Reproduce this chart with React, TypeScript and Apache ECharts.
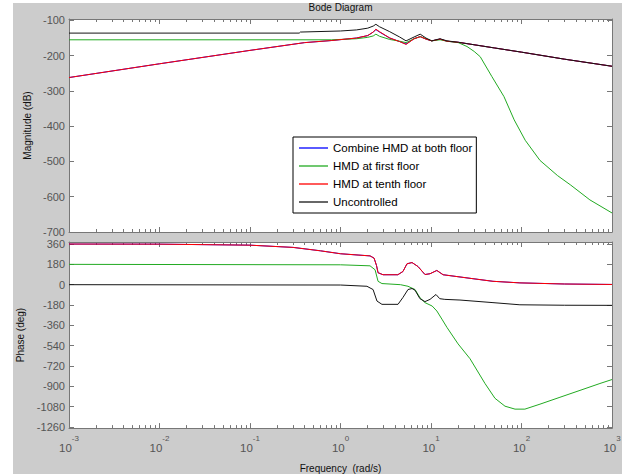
import React, { useEffect, useRef } from 'react';
import * as echarts from 'echarts';

const FONT = '"Liberation Sans", Arial, Helvetica, sans-serif';
const AXIS = '#777777';
const LABEL = '#555555';

const seriesNames = ['Combine HMD at both floor', 'HMD at first floor', 'HMD at tenth floor', 'Uncontrolled'];
const seriesColors = ['#0000ff', '#22aa22', '#ff0000', '#151515'];

const magTicks = [-700, -600, -500, -400, -300, -200, -100];
const phaseTicks = [-1260, -1080, -900, -720, -540, -360, -180, 0, 180, 360];

// ---- Magnitude (dB) ----
const tenthMagFreq = [0.001, 0.01, 0.1, 0.4, 0.8, 1.5, 2.0, 2.3, 2.46, 2.7, 3.5, 4.5, 5.3, 6.5, 7.6, 8.8, 10.2, 12.6, 15, 20, 50, 100, 300, 1000];
const tenthMag = [-262, -223, -185, -163, -157, -150, -143, -133, -125, -132, -150, -160, -168, -152, -146, -153, -158, -153, -159, -162, -178, -190, -210, -230];

const combineMagFreq = tenthMagFreq;
const combineMag = [-262, -223, -185, -163, -157, -150, -143, -133, -126, -133, -150, -160, -167, -152, -146, -153, -158, -153, -159, -162, -178, -190, -210, -230];

const firstMagFreq = [0.001, 0.8, 1.5, 2.0, 2.3, 2.46, 2.7, 3.5, 4.5, 5.3, 6.5, 7.6, 8.8, 10.2, 12.6, 15, 20, 25, 30, 35, 47, 64, 83, 110, 160, 250, 350, 570, 1000];
const firstMag = [-155, -155, -152, -148, -144, -139, -145, -154, -159, -163, -152, -146, -152, -158, -155, -159, -163, -174, -188, -203, -259, -316, -382, -440, -497, -540, -567, -609, -646];

const unconMagFreq = [0.001, 0.35, 0.36, 1.0, 1.5, 2.0, 2.3, 2.46, 2.7, 3.5, 4.5, 5.3, 6.5, 7.6, 8.8, 10.2, 12.6, 15, 20, 50, 100, 300, 1000];
const unconMag = [-136, -136, -133, -130, -127, -122, -116, -111, -118, -132, -147, -158, -147, -139, -150, -158, -152, -158, -162, -178, -190, -210, -230];

// ---- Phase (deg) ----
const tenthPhaseFreq = [0.001, 0.01, 0.1, 0.3, 0.6, 1.0, 1.6, 2.12, 2.35, 2.5, 2.6, 2.95, 4.3, 4.9, 5.43, 6.17, 7.18, 8.58, 9.76, 11.6, 13.6, 16.2, 29.1, 48.4, 96, 300, 1000];
const tenthPhase = [360, 359, 350, 330, 300, 274, 262, 255, 235, 170, 106, 88, 88, 117, 185, 196, 161, 90, 97, 126, 88, 80, 53, 30, 16, 6, 2];

const combinePhaseFreq = tenthPhaseFreq;
const combinePhase = tenthPhase;

const firstPhaseFreq = [0.001, 1.0, 2.12, 2.41, 2.6, 2.87, 4.6, 5.57, 6.66, 7.55, 8.58, 10.3, 11.6, 13.2, 15, 19.9, 27, 39.5, 50.9, 65.7, 84.8, 109, 160, 266, 443, 736, 1000];
const firstPhase = [180, 176, 167, 132, 30, 10, 0, -14, -43, -115, -159, -189, -233, -305, -378, -524, -656, -875, -1006, -1076, -1102, -1102, -1058, -997, -936, -875, -840];

const unconPhaseFreq = [0.001, 1.0, 1.96, 2.29, 2.53, 2.87, 4.32, 4.9, 5.57, 6.17, 6.66, 7.55, 8.58, 9.76, 11.35, 12.5, 14.2, 20.9, 48.4, 96, 300, 1000];
const unconPhase = [0, -3, -14, -43, -145, -174, -174, -113, -43, -34, -49, -124, -150, -130, -87, -124, -130, -136, -159, -178, -182, -183];

const zip = (f: number[], v: number[]) => f.map((x, i) => [x, v[i]]);

const magData = [zip(combineMagFreq, combineMag), zip(firstMagFreq, firstMag), zip(tenthMagFreq, tenthMag), zip(unconMagFreq, unconMag)];
const phaseData = [zip(combinePhaseFreq, combinePhase), zip(firstPhaseFreq, firstPhase), zip(tenthPhaseFreq, tenthPhase), zip(unconPhaseFreq, unconPhase)];

function xAxis(gridIndex: number, position: 'top' | 'bottom', labels: boolean, name?: string) {
  return {
    type: 'log',
    logBase: 10,
    gridIndex,
    position,
    min: 0.001,
    max: 1000,
    axisLine: { show: true, onZero: false, lineStyle: { color: AXIS, width: 1 } },
    axisTick: { show: true, inside: true, length: 5, lineStyle: { color: AXIS } },
    minorTick: { show: true, splitNumber: 9, length: 3, lineStyle: { color: AXIS } },
    splitLine: { show: false },
    minorSplitLine: { show: false },
    axisLabel: labels
      ? {
          show: true,
          margin: 13,
          formatter: (v: number) => `{b|10}{s|${Math.round(Math.log10(v))}}`,
          rich: {
            b: { fontSize: 11.5, lineHeight: 14, color: LABEL, fontFamily: FONT },
            s: { fontSize: 8, lineHeight: 14, padding: [0, 0, 20, 0], color: LABEL, fontFamily: FONT },
          },
        }
      : { show: false },
    name: name || '',
    nameLocation: 'middle',
    nameGap: 30,
    nameTextStyle: { fontSize: 10, color: '#111', fontFamily: FONT },
  };
}

function yAxis(gridIndex: number, position: 'left' | 'right', min: number, max: number, ticks: number[], name?: string) {
  const left = position === 'left';
  return {
    type: 'value',
    gridIndex,
    position,
    min,
    max,
    axisLine: { show: true, onZero: false, lineStyle: { color: AXIS, width: 1 } },
    axisTick: { show: true, inside: true, length: 5, customValues: ticks, lineStyle: { color: AXIS } },
    splitLine: { show: false },
    axisLabel: left
      ? {
          show: true,
          customValues: ticks,
          formatter: (v: number) => String(v),
          fontSize: 11,
          color: LABEL,
          fontFamily: FONT,
          margin: 4,
        }
      : { show: false },
    name: left ? name : '',
    nameLocation: 'middle',
    nameGap: 32,
    nameTextStyle: { fontSize: 10, color: '#111', fontFamily: FONT },
  };
}

export default function App() {
  const ref = useRef<HTMLDivElement>(null);

  useEffect(() => {
    if (!ref.current) return;
    const chart = echarts.init(ref.current, undefined, { renderer: 'svg' });

    const series: any[] = [];
    seriesNames.forEach((name, i) => {
      series.push({
        type: 'line',
        name,
        xAxisIndex: 0,
        yAxisIndex: 0,
        data: magData[i],
        symbol: 'none',
        lineStyle: { color: seriesColors[i], width: 1 },
        itemStyle: { color: seriesColors[i] },
        z: 2 + i,
      });
      series.push({
        type: 'line',
        name,
        xAxisIndex: 2,
        yAxisIndex: 2,
        data: phaseData[i],
        symbol: 'none',
        lineStyle: { color: seriesColors[i], width: 1 },
        itemStyle: { color: seriesColors[i] },
        z: 2 + i,
      });
    });

    chart.setOption({
      animation: false,
      backgroundColor: '#ffffff',
      graphic: [
        {
          type: 'rect',
          z: -10,
          silent: true,
          shape: { x: 13, y: 3, width: 609, height: 471 },
          style: { fill: '#cccccc' },
        },
        {
          type: 'text',
          x: 340.5,
          y: 2,
          z: 10,
          style: {
            text: 'Bode Diagram',
            fill: '#111',
            fontSize: 10,
            fontFamily: FONT,
            align: 'center',
            verticalAlign: 'top',
            textAlign: 'center',
            textVerticalAlign: 'top',
          },
        },
      ],
      grid: [
        { left: 69, top: 19, width: 543, height: 213, show: true, backgroundColor: '#ffffff', borderWidth: 0 },
        { left: 69, top: 242, width: 543, height: 188, show: true, backgroundColor: '#ffffff', borderWidth: 0 },
      ],
      xAxis: [
        xAxis(0, 'bottom', false),
        xAxis(0, 'top', false),
        xAxis(1, 'bottom', true, 'Frequency  (rad/s)'),
        xAxis(1, 'top', false),
      ],
      yAxis: [
        yAxis(0, 'left', -700, -96, magTicks, 'Magnitude (dB)'),
        yAxis(0, 'right', -700, -96, magTicks),
        yAxis(1, 'left', -1270, 378, phaseTicks, 'Phase (deg)'),
        yAxis(1, 'right', -1270, 378, phaseTicks),
      ],
      legend: {
        orient: 'vertical',
        left: 293,
        top: 137,
        padding: [4, 4, 4, 6],
        itemGap: 4,
        itemWidth: 29,
        itemHeight: 1.3,
        itemTextGap: 4,
        icon: 'rect',
        backgroundColor: '#ffffff',
        borderColor: '#000000',
        borderWidth: 1,
        borderRadius: 0,
        textStyle: { fontSize: 11.5, color: '#000', fontFamily: FONT, lineHeight: 14 },
        data: seriesNames,
      },
      series,
    });

    return () => chart.dispose();
  }, []);

  return (
    <div
      ref={ref}
      style={{ position: 'fixed', left: 0, top: 0, width: 626, height: 474 }}
    />
  );
}
